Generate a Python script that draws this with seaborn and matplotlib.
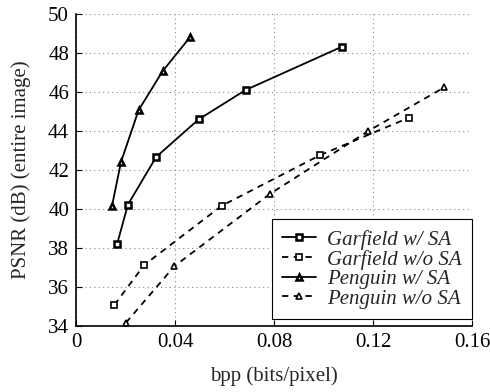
import matplotlib
matplotlib.use("Agg")
import matplotlib.pyplot as plt
import seaborn as sns
import numpy as np

# Data
garfield_sa_x = [0.0166, 0.0210, 0.0324, 0.0495, 0.0685, 0.1074]
garfield_sa_y = [38.2, 40.23, 42.67, 44.59, 46.10, 48.32]

garfield_nosa_x = [0.0155, 0.0275, 0.0588, 0.0986, 0.1345]
garfield_nosa_y = [35.08, 37.12, 40.16, 42.76, 44.68]

penguin_sa_x = [0.01455, 0.0182, 0.0253, 0.0350, 0.0460]
penguin_sa_y = [40.16, 42.42, 45.07, 47.07, 48.80]

penguin_nosa_x = [0.0202, 0.0397, 0.0782, 0.1181, 0.1488]
penguin_nosa_y = [34.17, 37.06, 40.76, 44.00, 46.24]

labels = ["Garfield w/ SA", "Garfield w/o SA", "Penguin w/ SA", "Penguin w/o SA"]
x_ticks = [0, 0.04, 0.08, 0.12, 0.16]
x_tick_labels = ["0", "0.04", "0.08", "0.12", "0.16"]
y_ticks = [34, 36, 38, 40, 42, 44, 46, 48, 50]

sns.set_style("ticks")
plt.rcParams['font.family'] = ['Liberation Serif', 'DejaVu Serif']

fig = plt.figure(figsize=(4.9, 3.92), dpi=100)
ax = fig.add_axes([76/490, 1-326/392, 396/490, 312/392])

series = [
    (garfield_sa_x, garfield_sa_y, '-', 's', 1.8),
    (garfield_nosa_x, garfield_nosa_y, (0, (3.5, 3)), 's', 1.2),
    (penguin_sa_x, penguin_sa_y, '-', '^', 1.8),
    (penguin_nosa_x, penguin_nosa_y, (0, (3.5, 3)), '^', 1.2),
]
for (xs, ys, ls, mk, mew), lab in zip(series, labels):
    sns.lineplot(x=xs, y=ys, ax=ax, color='black', linestyle=ls, linewidth=1.3,
                 marker=mk, markersize=4.5, markerfacecolor='white',
                 markeredgecolor='black', markeredgewidth=mew, label=lab,
                 sort=False, legend=False)

ax.set_xlim(0, 0.16)
ax.set_ylim(34, 50)
ax.set_xticks(x_ticks)
ax.set_xticklabels(x_tick_labels)
ax.set_yticks(y_ticks)
ax.tick_params(direction='in', length=4, width=0.8, labelsize=15, pad=5, colors='black')
ax.grid(True, linestyle=(0, (1, 3)), color='#888888', linewidth=0.8)
for s in ['top', 'right']:
    ax.spines[s].set_visible(False)
for s in ['left', 'bottom']:
    ax.spines[s].set_linewidth(1.2)
    ax.spines[s].set_color('black')

ax.set_xlabel("bpp (bits/pixel)", fontsize=15, labelpad=10)
ax.set_ylabel("PSNR (dB) (entire image)", fontsize=15, labelpad=12)

leg = ax.legend(loc='lower right', bbox_to_anchor=(1.0, 0.022), frameon=True,
                fancybox=False, edgecolor='black', framealpha=1,
                prop={'style': 'italic', 'size': 15, 'family': 'Liberation Serif'},
                handlelength=1.6, borderpad=0.5, labelspacing=0.0, handletextpad=0.55,
                borderaxespad=0)
leg.get_frame().set_linewidth(0.8)

fig.savefig("out.png", dpi=100)
